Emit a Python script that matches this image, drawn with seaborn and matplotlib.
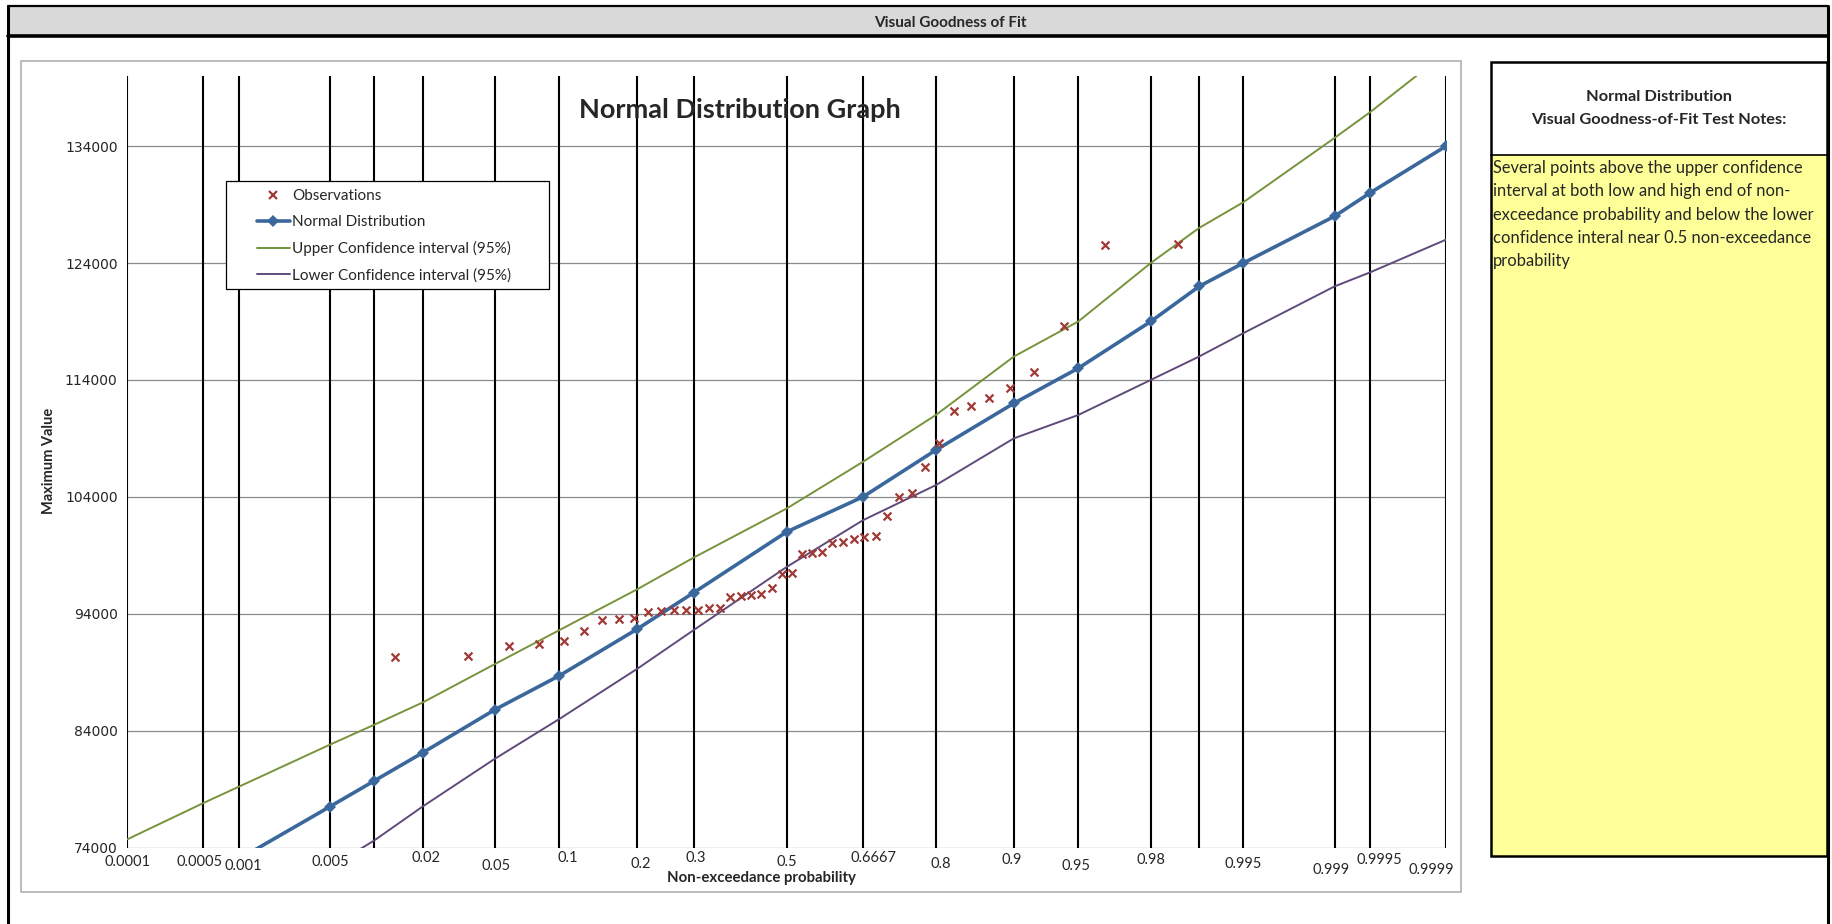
from statistics import NormalDist

import matplotlib.pyplot as plt
from matplotlib.lines import Line2D
from matplotlib.patches import Rectangle
import pandas as pd
import seaborn as sns

# Lineas verticales del papel de probabilidad normal
grid_probs = [0.0001, 0.0005, 0.001, 0.005, 0.01, 0.02, 0.05, 0.1, 0.2, 0.3,
              0.5, 0.6667, 0.8, 0.9, 0.95, 0.98, 0.99, 0.995, 0.999, 0.9995, 0.9999]
grid_labels = ['0.0001', '0.0005', '0.001', '0.005', '', '0.02', '0.05', '0.1', '0.2', '0.3',
               '0.5', '0.6667', '0.8', '0.9', '0.95', '0.98', '', '0.995', '0.999', '0.9995', '0.9999']

# Distribucion normal ajustada
dist_probs = [0.001, 0.005, 0.01, 0.02, 0.05, 0.1, 0.2, 0.3, 0.5, 0.6667,
              0.8, 0.9, 0.95, 0.98, 0.99, 0.995, 0.999, 0.9995, 0.9999]
normal_vals = [73000, 77500, 79700, 82100, 85800, 88700, 92700, 95800, 101000, 104000,
               108000, 112000, 115000, 119000, 122000, 124000, 128000, 130000, 134000]

# Intervalo de confianza superior (95%)
upper_probs = [0.0001, 0.0005, 0.001, 0.005, 0.01, 0.02, 0.05, 0.1, 0.2, 0.3, 0.5,
               0.6667, 0.8, 0.9, 0.95, 0.98, 0.99, 0.995, 0.999, 0.9995, 0.9999]
upper_vals = [74700, 77800, 79200, 82800, 84500, 86400, 89700, 92600, 96100, 98800, 103000,
              107000, 111000, 116000, 119000, 124000, 127000, 129200, 134700, 136900, 142000]

# Intervalo de confianza inferior (95%)
lower_probs = [0.005, 0.01, 0.02, 0.05, 0.1, 0.2, 0.3, 0.5, 0.6667, 0.8,
               0.9, 0.95, 0.98, 0.99, 0.995, 0.999, 0.9995, 0.9999]
lower_vals = [72300, 74600, 77500, 81600, 85000, 89300, 92600, 98000, 102000, 105000,
              109000, 111000, 114000, 116000, 118000, 122000, 123200, 126000]

# Observaciones (posicion de graficado y valor maximo)
obs_probs = [0.0136, 0.0362, 0.0588, 0.0814, 0.1041, 0.1267, 0.1493, 0.1719, 0.1946, 0.2172,
             0.2398, 0.2624, 0.2851, 0.3077, 0.3303, 0.3529, 0.3756, 0.3982, 0.4208, 0.4434,
             0.4661, 0.4887, 0.5113, 0.5339, 0.5566, 0.5792, 0.6018, 0.6244, 0.6471, 0.6697,
             0.6923, 0.7149, 0.7376, 0.7602, 0.7828, 0.8054, 0.8281, 0.8507, 0.8733, 0.8959,
             0.9186, 0.9412, 0.9638, 0.9864]
obs_vals = [90300, 90350, 91270, 91450, 91630, 92530, 93430, 93550, 93670, 94120,
            94240, 94300, 94300, 94360, 94480, 94480, 95470, 95530, 95590, 95680,
            96220, 97400, 97510, 99130, 99170, 99300, 100020, 100130, 100390, 100560,
            100620, 102360, 103960, 104350, 106550, 108580, 111310, 111770, 112450, 113280,
            114670, 118630, 125540, 125600]

y_ticks = [74000, 84000, 94000, 104000, 114000, 124000, 134000]

# Desplazamientos (px) de las etiquetas del eje X, como en la hoja original
label_dx = [0, -4, 4, 0, 0, 3, 1, 8, 3, 2, 0, 10, 5, -2, -2, 0, 0, 0, -3, 9, -15]
label_drop = [15, 14, 19, 14, 0, 10, 18, 11, 16, 11, 14, 10, 17, 13, 19, 13, 0, 17, 23, 13, 23]

W, H = 1833, 924
FONT = ['Lato', 'DejaVu Sans']
AX_L, AX_R, AX_T, AX_B = 127.3, 1446, 76, 847.5


def fx(px):
    return px / W


def fy(py):
    return 1 - py / H


def main():
    nd = NormalDist()
    z = nd.inv_cdf

    sns.set_style('white')
    plt.rcParams['font.family'] = FONT

    fig = plt.figure(figsize=(W / 100, H / 100), dpi=100)

    # Marco exterior y encabezado gris
    fig.add_artist(Rectangle((fx(8), fy(36)), fx(1828) - fx(8), fy(6) - fy(36),
                             transform=fig.transFigure, facecolor='#D9D9D9', edgecolor='none'))
    for xs, ys, lw in [([8, 1828], [6, 6], 1.6), ([8, 1828], [36, 36], 2.6),
                       ([8, 8], [6, 924], 2.2), ([1828, 1828], [6, 924], 2.2)]:
        fig.add_artist(Line2D([fx(v) for v in xs], [fy(v) for v in ys], color='black',
                              lw=lw, transform=fig.transFigure))
    fig.text(fx(950), fy(23), 'Visual Goodness of Fit', ha='center', va='center',
             fontsize=11, fontweight='bold')

    # Borde del area del grafico
    fig.add_artist(Rectangle((fx(21), fy(892)), fx(1461) - fx(21), fy(61) - fy(892),
                             transform=fig.transFigure, facecolor='none',
                             edgecolor='#B0B0B0', lw=1.2))

    # Panel de notas a la derecha
    fig.add_artist(Rectangle((fx(1491), fy(856)), fx(1827) - fx(1491), fy(155) - fy(856),
                             transform=fig.transFigure, facecolor='#FFFF99', edgecolor='none'))
    fig.add_artist(Rectangle((fx(1491), fy(856)), fx(1827) - fx(1491), fy(62) - fy(856),
                             transform=fig.transFigure, facecolor='none',
                             edgecolor='black', lw=1.8))
    fig.add_artist(Line2D([fx(1491), fx(1827)], [fy(155), fy(155)], color='black',
                          lw=1.2, transform=fig.transFigure))
    fig.text(fx(1659), fy(97), 'Normal Distribution', ha='center', va='center',
             fontsize=11.8, fontweight='bold')
    fig.text(fx(1659), fy(120), 'Visual Goodness-of-Fit Test Notes:', ha='center',
             va='center', fontsize=11.8, fontweight='bold')
    notas = ['Several points above the upper confidence',
             'interval at both low and high end of non-',
             'exceedance probability and below the lower',
             'confidence interal near 0.5 non-exceedance',
             'probability']
    for i, linea in enumerate(notas):
        fig.text(fx(1493), fy(168 + i * 23.3), linea, ha='left', va='center', fontsize=11.9)

    # Ejes del grafico de probabilidad normal
    ax = fig.add_axes([fx(AX_L), fy(AX_B), fx(AX_R) - fx(AX_L), fy(AX_T) - fy(AX_B)])

    obs = pd.DataFrame({'z': [z(p) for p in obs_probs], 'valor': obs_vals})
    normal = pd.DataFrame({'z': [z(p) for p in dist_probs], 'valor': normal_vals})
    upper = pd.DataFrame({'z': [z(p) for p in upper_probs], 'valor': upper_vals})
    lower = pd.DataFrame({'z': [z(p) for p in lower_probs], 'valor': lower_vals})

    ax.yaxis.grid(True, color='#8A8A8A', lw=0.9, zorder=0)
    ax.xaxis.grid(False)
    for p in grid_probs:
        ax.axvline(z(p), color='black', lw=1.5, zorder=1)

    sns.lineplot(data=upper, x='z', y='valor', sort=False, estimator=None,
                 color='#77933C', lw=1.4, ax=ax, zorder=2)
    sns.lineplot(data=lower, x='z', y='valor', sort=False, estimator=None,
                 color='#604A7B', lw=1.4, ax=ax, zorder=2)
    sns.lineplot(data=normal, x='z', y='valor', sort=False, estimator=None,
                 color='#3A679C', lw=2.6, marker='D', markersize=6,
                 markeredgewidth=0, ax=ax, zorder=3)
    sns.scatterplot(data=obs, x='z', y='valor', marker='x', color='#A03A36',
                    s=32, linewidth=1.6, ax=ax, zorder=4)

    ax.set_xlim(z(grid_probs[0]), z(grid_probs[-1]))
    ax.set_ylim(74000, 140000)
    ax.set_yticks(y_ticks)
    ax.set_yticklabels([str(v) for v in y_ticks], fontsize=10, family='DejaVu Sans')
    ax.tick_params(axis='y', length=0, pad=7)
    ax.set_xticks([])
    for s in ax.spines.values():
        s.set_visible(False)

    # Etiquetas de probabilidad escalonadas bajo el eje
    alto = AX_B - AX_T
    px_z = (AX_R - AX_L) / (z(grid_probs[-1]) - z(grid_probs[0]))
    for p, lab, dx, dy in zip(grid_probs, grid_labels, label_dx, label_drop):
        if not lab:
            continue
        ax.text(z(p) + dx / px_z, -dy / alto, lab, transform=ax.get_xaxis_transform(),
                ha='center', va='center', fontsize=10.5, clip_on=False)

    ax.set_xlabel('')
    ax.set_ylabel('')
    fig.text(fx(761), fy(878), 'Non-exceedance probability', ha='center', va='center',
             fontsize=10.8, fontweight='bold')
    fig.text(fx(49), fy(461), 'Maximum Value', ha='center', va='center', rotation=90,
             fontsize=10.5, fontweight='bold')

    ax.text(0.4646, 0.956, 'Normal Distribution Graph', transform=ax.transAxes,
            ha='center', va='center', fontsize=19.5, fontweight='bold')

    # Leyenda: marco dibujado aparte para reproducir su ancho
    def ax_x(px):
        return (px - AX_L) / (AX_R - AX_L)

    def ax_y(py):
        return (AX_B - py) / alto

    ax.add_patch(Rectangle((ax_x(225.6), ax_y(288.7)), ax_x(549.4) - ax_x(225.6),
                           ax_y(181) - ax_y(288.7), transform=ax.transAxes,
                           facecolor='white', edgecolor='black', lw=0.9, zorder=5))
    handles = [
        Line2D([], [], color='#A03A36', marker='x', ls='none', markersize=5.5, mew=1.6),
        Line2D([], [], color='#3A679C', marker='D', lw=2.6, markersize=6, mew=0),
        Line2D([], [], color='#77933C', lw=1.4),
        Line2D([], [], color='#604A7B', lw=1.4),
    ]
    etiquetas = ['Observations', 'Normal Distribution',
                 'Upper Confidence interval (95%)', 'Lower Confidence interval (95%)']
    leg = ax.legend(handles, etiquetas, loc='upper left',
                    bbox_to_anchor=(ax_x(257), ax_y(189.5)), fontsize=11, frameon=False,
                    handlelength=2.16, handletextpad=0.13, labelspacing=0.78,
                    borderpad=0, borderaxespad=0)
    leg.set_zorder(6)

    plt.savefig('out.png', dpi=100)


if __name__ == '__main__':
    main()
